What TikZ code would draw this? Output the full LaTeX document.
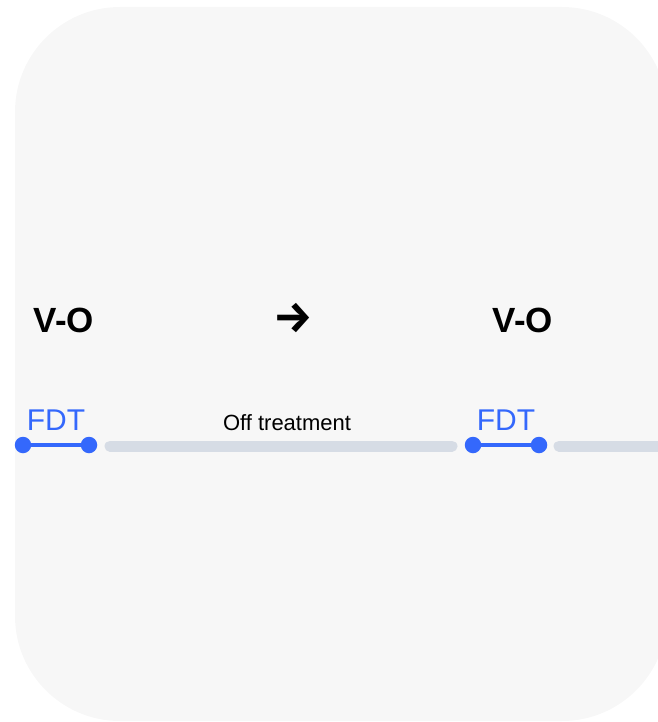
\documentclass[tikz,border=0pt]{standalone}
\usepackage{fontspec}
\setmainfont{Liberation Sans}
\newfontfamily\symfont{Fira Sans}
\usepackage{tikz}
\usetikzlibrary{positioning}
\definecolor{SoftGray}{RGB}{247,247,247}
\definecolor{barGray}{RGB}{214,220,229}
\definecolor{fdtBlue}{RGB}{52,104,252}
\tikzset{
  phase/.style  = {font=\bfseries\fontsize{35}{40}\selectfont, inner sep=0pt},
  fdtlab/.style = {font=\fontsize{30}{32}\selectfont, text=fdtBlue, inner sep=0pt},
  offlab/.style = {font=\fontsize{22}{24}\selectfont, inner sep=0pt},
  dot/.style    = {circle, fill=fdtBlue, minimum size=16.5pt, inner sep=0pt},
  fdtline/.style= {fdtBlue, line width=4.5pt},
  offbar/.style = {barGray, line width=11pt, line cap=round}
}

\begin{document}
\begin{tikzpicture}[x=1pt,y=-1pt]
\useasboundingbox (0,0) rectangle (657,722);
\fill[SoftGray, rounded corners=105pt] (15,7) rectangle (667,721);

% phase headings
\node[phase] (vo1) at (64,320) {V-O};
\node[font=\symfont\bfseries\fontsize{44}{46}\selectfont, inner sep=0pt] (arr) at (293,318) {→};
\node[phase] (vo2) at (523,320) {V-O};

% first FDT window
\node[dot] (d1) at (23,445) {};
\node[dot] (d2) at (89,445) {};
\draw[fdtline] (d1) -- (d2);
\node[fdtlab] (fdt1) at (56,420) {FDT};

% off treatment gap
\coordinate (g1) at (110,446);
\coordinate (g2) at (452,446);
\draw[offbar] (g1) -- (g2);
\node[offlab] (off) at (287,423) {Off treatment};

% second FDT window
\node[dot] (d3) at (473,445) {};
\node[dot] (d4) at (539,445) {};
\draw[fdtline] (d3) -- (d4);
\node[fdtlab] (fdt2) at (506,420) {FDT};

\coordinate (g3) at (559,446);
\coordinate (g4) at (680,446);
\draw[offbar] (g3) -- (g4);
\end{tikzpicture}
\end{document}
